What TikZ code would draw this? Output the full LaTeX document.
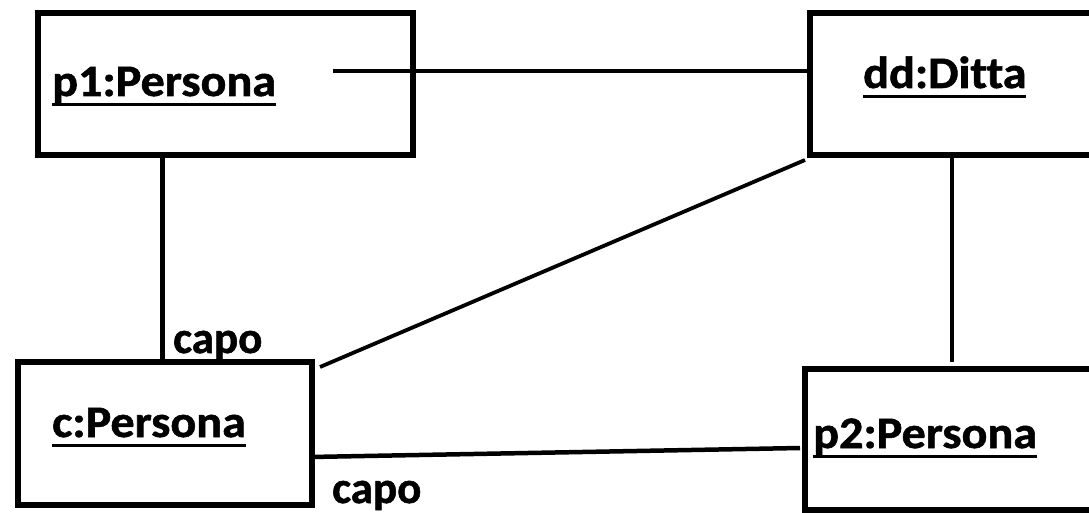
\documentclass[tikz,border=0pt]{standalone}
\usepackage{fontspec}
\setmainfont{Carlito}[Ligatures=NoCommon, BoldFeatures={FakeBold=1.2}]
\usepackage{graphicx}
\usetikzlibrary{positioning}

\newcommand{\objlabel}[1]{\scalebox{1.07}[1]{\setbox0\hbox{#1}\rlap{\rule[-10pt]{\wd0}{3pt}}\box0}}

\tikzset{
  objbox/.style={draw, line width=5.5pt, inner sep=0pt, outer sep=0pt, anchor=north west},
  objname/.style={font=\bfseries\fontsize{45}{45}\selectfont, inner sep=0pt, anchor=base west},
  rolename/.style={font=\bfseries\fontsize{45}{45}\selectfont, inner sep=0pt, anchor=base west},
  link/.style={line width=4.5pt}
}

\begin{document}
\begin{tikzpicture}[x=1pt, y=-1pt]
  \clip (0,0) rectangle (1089,513);
  % objects
  \node[objbox, minimum width=375pt, minimum height=142pt] (p1) at (38,13) {};
  \node[objbox, minimum width=320pt, minimum height=142pt] (dd) at (810,13) {};
  \node[objbox, minimum width=294pt, minimum height=143pt] (c) at (18,362) {};
  \node[objbox, minimum width=320pt, minimum height=141pt] (p2) at (805,369) {};
  \node[objname] (p1name) at (52,96) {\objlabel{p1:Persona}};
  \node[objname] (ddname) at (863,88) {\objlabel{dd:Ditta}};
  \node[objname] (cname) at (52,437) {\objlabel{c:Persona}};
  \node[objname] (p2name) at (813,448) {\objlabel{p2:Persona}};
  % links
  \draw[link] ([xshift=-80pt, yshift=13pt]p1.east) -- ([yshift=13pt]p1.east -| dd.west);
  \draw[link] ([xshift=-63pt]p1.south) -- ([xshift=-63pt]p1.south |- c.north);
  \draw[link, line width=3.8pt] ([xshift=8pt, yshift=-5pt]c.north east) -- ([xshift=-5pt, yshift=-5pt]dd.south west);
  \draw[link, shorten >=7pt] ([xshift=142pt]dd.south west) -- ([xshift=142pt]dd.south west |- p2.north);
  \draw[link] ([xshift=-2pt, yshift=-23.5pt]c.east) -- ([xshift=-5pt, yshift=-8.5pt]p2.west);
  % roles
  \node[rolename] (capo1) at (173,353) {capo};
  \node[rolename] (capo2) at (332,503) {capo};
\end{tikzpicture}
\end{document}
